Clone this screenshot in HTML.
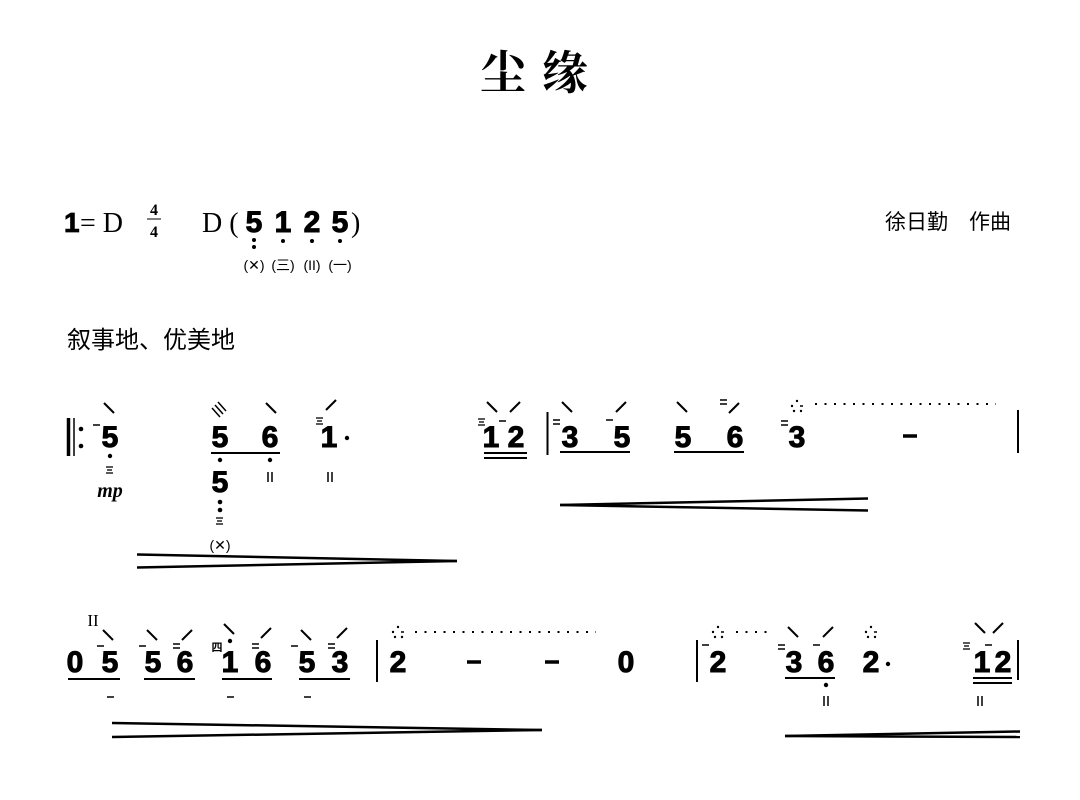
<!DOCTYPE html>
<html><head><meta charset="utf-8"><style>
html,body{margin:0;padding:0;background:#fff;}
svg{display:block;}
.n{font-family:"Liberation Sans",sans-serif;font-weight:bold;font-size:30px;text-anchor:middle;fill:#000;stroke:#000;stroke-width:1;}
.c{font-family:"Liberation Sans","Noto Sans CJK SC",sans-serif;fill:#000;}
.s{font-family:"Liberation Sans","Noto Sans CJK SC",sans-serif;font-size:14px;fill:#000;text-anchor:middle;}
line{stroke:#000;}
</style></head><body>
<svg width="1080" height="800" viewBox="0 0 1080 800" xmlns="http://www.w3.org/2000/svg">
<defs>
<g id="sym"><circle cx="0" cy="-6" r="1.2"/><circle cx="-5" cy="-1" r="1.2"/><line x1="3" y1="-1" x2="6" y2="-1" stroke-width="1.5"/><circle cx="-3" cy="4" r="1.2"/><circle cx="4" cy="4" r="1.2"/></g>
<g id="bs"><line x1="0" y1="0" x2="10" y2="10" stroke-width="2"/></g>
<g id="fs"><line x1="10" y1="0" x2="0" y2="10" stroke-width="2"/></g>
<g id="d1"><line x1="0" y1="0" x2="7" y2="0" stroke-width="1.5"/></g>
<g id="d2"><line x1="0" y1="0" x2="7" y2="0" stroke-width="1.5"/><line x1="0" y1="4" x2="7" y2="4" stroke-width="1.5"/></g>
<g id="d3"><line x1="0" y1="0" x2="7" y2="0" stroke-width="1.3"/><line x1="1" y1="3" x2="6" y2="3" stroke-width="1.3"/><line x1="0" y1="6" x2="7" y2="6" stroke-width="1.3"/></g>
<g id="ii"><line x1="-2" y1="0" x2="-2" y2="10" stroke-width="1.5"/><line x1="2" y1="0" x2="2" y2="10" stroke-width="1.5"/></g>
</defs>

<text x="542" y="89" font-family="'Noto Serif CJK SC',serif" font-weight="bold" font-size="46" text-anchor="middle" letter-spacing="16">尘缘</text>

<!-- header -->
<text x="64" y="232" class="c" font-size="28" font-weight="bold" stroke="#000" stroke-width="0.8">1</text>
<text x="80" y="232" font-family="'Liberation Serif',serif" font-size="28">= D</text>
<text x="154" y="215" font-family="'Liberation Serif',serif" font-weight="bold" font-size="16" text-anchor="middle">4</text>
<line x1="147" y1="219" x2="161" y2="219" stroke-width="1"/>
<text x="154" y="237" font-family="'Liberation Serif',serif" font-weight="bold" font-size="16" text-anchor="middle">4</text>
<text x="202" y="232" font-family="'Liberation Serif',serif" font-size="28">D (</text>
<text x="254" y="232" class="n" font-size="27">5</text>
<text x="283" y="232" class="n" font-size="27">1</text>
<text x="312" y="232" class="n" font-size="27">2</text>
<text x="340" y="232" class="n" font-size="27">5</text>
<text x="351" y="232" font-family="'Liberation Serif',serif" font-size="28">)</text>
<circle cx="254" cy="240" r="2"/><circle cx="254" cy="247" r="2"/><circle cx="283" cy="241" r="2"/><circle cx="312" cy="241" r="2"/><circle cx="340" cy="241" r="2"/>
<text x="254" y="270" class="s">(✕)</text><text x="283" y="270" class="s">(三)</text><text x="312" y="270" class="s">(II)</text><text x="340" y="270" class="s">(一)</text>
<text x="885" y="229" class="c" font-size="21">徐日勤　作曲</text>
<text x="67" y="348" class="c" font-size="24">叙事地、优美地</text>

<!-- row 1 -->
<line x1="68.5" y1="418" x2="68.5" y2="456" stroke-width="3.5"/>
<line x1="74" y1="418" x2="74" y2="456" stroke-width="1.5"/>
<circle cx="81" cy="429" r="2.3"/><circle cx="81" cy="446" r="2.3"/>
<use href="#d1" x="93" y="425"/><use href="#bs" x="104" y="403"/>
<text x="110" y="447" class="n">5</text><circle cx="110" cy="456" r="2.2"/>
<use href="#d3" x="106" y="467"/>
<text x="110" y="497" font-family="'Liberation Serif',serif" font-weight="bold" font-style="italic" font-size="20" text-anchor="middle">mp</text>

<line x1="215" y1="405" x2="223" y2="414" stroke-width="1.5"/><line x1="218" y1="402" x2="226" y2="411" stroke-width="1.5"/><line x1="212" y1="408" x2="220" y2="417" stroke-width="1.5"/>
<use href="#bs" x="266" y="403"/>
<text x="220" y="447" class="n">5</text><text x="270" y="447" class="n">6</text>
<line x1="211" y1="453" x2="280" y2="453" stroke-width="2"/>
<circle cx="220" cy="460" r="2.2"/><circle cx="270" cy="460" r="2.2"/>
<use href="#ii" x="270" y="472"/>
<text x="220" y="492" class="n">5</text>
<circle cx="220" cy="502" r="2.3"/><circle cx="220" cy="510" r="2.3"/>
<use href="#d3" x="216" y="518"/>
<text x="220" y="550" class="s" font-size="16">(✕)</text>

<use href="#d3" x="316" y="418"/><use href="#fs" x="326" y="400"/>
<text x="329" y="447" class="n">1</text><circle cx="347" cy="438" r="2.2"/>
<use href="#ii" x="330" y="472"/>

<use href="#d3" x="478" y="419"/><use href="#bs" x="487" y="402"/><use href="#fs" x="510" y="402"/><use href="#d1" x="499" y="421"/>
<text x="491" y="447" class="n">1</text><text x="516" y="447" class="n">2</text>
<line x1="484" y1="453" x2="527" y2="453" stroke-width="2"/><line x1="484" y1="458" x2="527" y2="458" stroke-width="2"/>

<line x1="137" y1="554.5" x2="457" y2="561" stroke-width="2.5"/><line x1="137" y1="567.5" x2="457" y2="561" stroke-width="2.5"/>

<line x1="547.5" y1="412" x2="547.5" y2="455" stroke-width="2"/>
<use href="#d2" x="553" y="420"/><use href="#bs" x="562" y="402"/>
<text x="570" y="447" class="n">3</text>
<use href="#d1" x="606" y="420"/><use href="#fs" x="616" y="402"/>
<text x="622" y="447" class="n">5</text>
<line x1="560" y1="452" x2="630" y2="452" stroke-width="2"/>
<use href="#bs" x="677" y="402"/>
<text x="683" y="447" class="n">5</text>
<use href="#d2" x="720" y="400"/><use href="#fs" x="729" y="403"/>
<text x="735" y="447" class="n">6</text>
<line x1="674" y1="452" x2="744" y2="452" stroke-width="2"/>
<use href="#d2" x="781" y="421"/>
<use href="#sym" x="797" y="407"/>
<text x="797" y="447" class="n">3</text>
<line x1="815" y1="404" x2="996" y2="404" stroke-width="2" stroke-dasharray="2,7.5"/>
<line x1="903" y1="436" x2="917" y2="436" stroke-width="3.5"/>
<line x1="1018" y1="410" x2="1018" y2="453" stroke-width="2"/>

<line x1="560" y1="505" x2="868" y2="498.5" stroke-width="2.5"/><line x1="560" y1="505" x2="868" y2="510.5" stroke-width="2.5"/>

<!-- row 2 -->
<text x="93" y="626" font-family="'Liberation Serif',serif" font-size="17" text-anchor="middle">II</text>
<text x="75" y="672" class="n">0</text>
<use href="#d1" x="97" y="646"/><use href="#bs" x="103" y="630"/>
<text x="110" y="672" class="n">5</text>
<line x1="68" y1="679" x2="120" y2="679" stroke-width="2"/>
<use href="#d1" x="107" y="697"/>

<use href="#d1" x="139" y="646"/><use href="#bs" x="147" y="630"/>
<text x="153" y="672" class="n">5</text>
<use href="#d2" x="173" y="644"/><use href="#fs" x="182" y="630"/>
<text x="185" y="672" class="n">6</text>
<line x1="144" y1="679" x2="195" y2="679" stroke-width="2"/>

<text x="217" y="651" class="c" font-size="11" font-weight="bold" text-anchor="middle">四</text>
<use href="#bs" x="224" y="624"/><circle cx="230" cy="641" r="2.2"/>
<text x="230" y="672" class="n">1</text>
<use href="#d2" x="252" y="644"/><use href="#fs" x="261" y="628"/>
<text x="263" y="672" class="n">6</text>
<line x1="222" y1="679" x2="272" y2="679" stroke-width="2"/>
<use href="#d1" x="227" y="697"/>

<use href="#d1" x="291" y="646"/><use href="#bs" x="301" y="630"/>
<text x="307" y="672" class="n">5</text>
<use href="#d2" x="328" y="644"/><use href="#fs" x="337" y="628"/>
<text x="340" y="672" class="n">3</text>
<line x1="299" y1="679" x2="350" y2="679" stroke-width="2"/>
<use href="#d1" x="304" y="697"/>

<line x1="377" y1="640" x2="377" y2="682" stroke-width="2"/>
<use href="#sym" x="398" y="633"/>
<text x="398" y="672" class="n">2</text>
<line x1="415" y1="632" x2="596" y2="632" stroke-width="2" stroke-dasharray="2,7.5"/>
<line x1="467" y1="662" x2="481" y2="662" stroke-width="3.5"/>
<line x1="545" y1="662" x2="559" y2="662" stroke-width="3.5"/>
<text x="626" y="672" class="n">0</text>

<line x1="697" y1="640" x2="697" y2="682" stroke-width="2"/>
<use href="#d1" x="702" y="645"/>
<use href="#sym" x="718" y="633"/>
<text x="718" y="672" class="n">2</text>
<line x1="736" y1="632" x2="772" y2="632" stroke-width="2" stroke-dasharray="2,7.5"/>
<use href="#d2" x="778" y="645"/><use href="#bs" x="788" y="627"/>
<text x="794" y="672" class="n">3</text>
<use href="#d1" x="813" y="645"/><use href="#fs" x="823" y="627"/>
<text x="826" y="672" class="n">6</text>
<line x1="785" y1="678" x2="835" y2="678" stroke-width="2"/>
<circle cx="826" cy="685" r="2.2"/><use href="#ii" x="826" y="696"/>
<use href="#sym" x="871" y="633"/>
<text x="871" y="672" class="n">2</text><circle cx="888" cy="664" r="2.2"/>
<use href="#d3" x="963" y="643"/><use href="#bs" x="975" y="623"/><use href="#fs" x="993" y="623"/><use href="#d1" x="985" y="645"/>
<text x="982" y="672" class="n">1</text><text x="1003" y="672" class="n">2</text>
<line x1="973" y1="678" x2="1012" y2="678" stroke-width="2"/><line x1="973" y1="683" x2="1012" y2="683" stroke-width="2"/>
<use href="#ii" x="980" y="696"/>
<line x1="1018" y1="640" x2="1018" y2="680" stroke-width="2"/>

<line x1="112" y1="723" x2="542" y2="730" stroke-width="2.5"/><line x1="112" y1="737" x2="542" y2="730" stroke-width="2.5"/>
<line x1="785" y1="736" x2="1020" y2="731.5" stroke-width="2.5"/><line x1="785" y1="736" x2="1020" y2="737" stroke-width="2.5"/>
</svg>
</body></html>
